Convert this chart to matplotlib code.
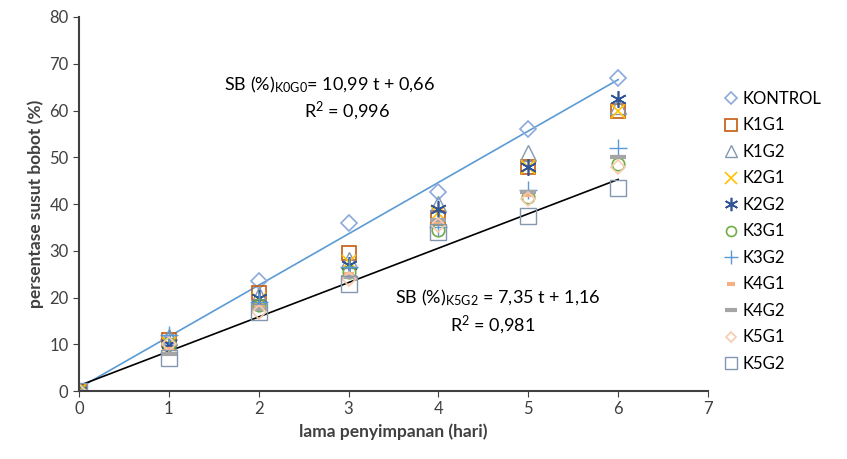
import matplotlib
matplotlib.use('Agg')
import matplotlib.pyplot as plt
import numpy as np

plt.rcParams['font.family'] = ['Lato', 'DejaVu Sans']
plt.rcParams['mathtext.fontset'] = 'custom'
plt.rcParams['mathtext.rm'] = 'Lato'
plt.rcParams['mathtext.it'] = 'Lato'

# storage days
days = [0, 1, 2, 3, 4, 5, 6]

# weight loss (%) per treatment
kontrol = [0, 11.0, 23.5, 36.0, 42.5, 56.0, 67.0]
k1g1 = [0, 11.0, 21.0, 29.5, 37.0, 48.0, 60.0]
k1g2 = [0, 11.5, 20.5, 28.0, 40.0, 51.0, 61.0]
k2g1 = [0, 10.0, 19.5, 27.5, 38.0, 48.0, 60.0]
k2g2 = [0, 10.0, 20.0, 27.0, 39.0, 48.0, 62.5]
k3g1 = [0, 10.0, 18.5, 25.5, 34.5, 41.5, 48.5]
k3g2 = [0, 12.0, 19.0, 26.5, 35.0, 43.0, 52.0]
k4g1 = [0, 9.0, 18.0, 25.0, 36.0, 42.0, 50.0]
k4g2 = [0, 8.0, 17.5, 24.5, 36.5, 42.5, 50.0]
k5g1 = [0, 10.0, 17.0, 24.0, 35.5, 41.0, 48.0]
k5g2 = [0, 7.0, 17.0, 23.0, 34.0, 37.5, 43.5]

# trendline coefficients (slope, intercept)
fit_k0g0 = (10.99, 0.66)
fit_k5g2 = (7.35, 1.16)

series = [
    ('KONTROL', kontrol, dict(marker='D', ms=8, mfc='none', mec='#8EA9DB', mew=1.2)),
    ('K1G1', k1g1, dict(marker='s', ms=10, mfc='none', mec='#C55A11', mew=1.2)),
    ('K1G2', k1g2, dict(marker='^', ms=11, mfc='none', mec='#8497B0', mew=1.0)),
    ('K2G1', k2g1, dict(marker='x', ms=10, mec='#FFC000', mew=1.2)),
    ('K2G2', k2g2, dict(marker=(6, 2, 0), ms=12, mec='#2F5597', mew=1.2)),
    ('K3G1', k3g1, dict(marker='o', ms=9, mfc='none', mec='#70AD47', mew=1.2)),
    ('K3G2', k3g2, dict(marker='+', ms=13, mec='#5B9BD5', mew=1.0)),
    ('K4G1', k4g1, dict(marker='_', ms=7, mec='#F4B183', mew=3)),
    ('K4G2', k4g2, dict(marker='_', ms=11, mec='#A5A5A5', mew=3)),
    ('K5G1', k5g1, dict(marker='D', ms=7, mfc='none', mec='#F8CBAD', mew=1.2)),
    ('K5G2', k5g2, dict(marker='s', ms=11, mfc='none', mec='#8497B0', mew=1.0)),
]

fig = plt.figure(figsize=(8.47, 4.59), dpi=100)
ax = fig.add_axes([0.0933, 0.148, 0.7426, 0.815])

for name, vals, st in series:
    ax.plot(days, vals, linestyle='none', label=name, **st)

t = np.array([0, 6])
ax.plot(t, fit_k0g0[0] * t + fit_k0g0[1], color='#5B9BD5', lw=1.2, zorder=1)
ax.plot(t, fit_k5g2[0] * t + fit_k5g2[1], color='black', lw=1.2, zorder=1)

ax.set_xlim(0, 7)
ax.set_ylim(0, 80)
ax.set_xticks(range(0, 8))
ax.set_yticks(range(0, 81, 10))
ax.tick_params(labelsize=12, direction='out', length=4, color='#404040', labelcolor='#404040')
ax.spines['top'].set_visible(False)
ax.spines['right'].set_visible(False)
for s in ('left', 'bottom'):
    ax.spines[s].set_linewidth(1.5)
    ax.spines[s].set_color('#404040')

ax.set_xlabel('lama penyimpanan (hari)', fontsize=12.5, fontweight='bold', color='#404040')
ax.set_ylabel('persentase susut bobot (%)', fontsize=12.5, fontweight='bold', color='#404040')

ax.text(2.79, 65.5, r'SB (%)$_{\mathrm{K0G0}}$= 10,99 t + 0,66', fontsize=13, ha='center', va='center')
ax.text(2.98, 60.0, r'R$^{2}$ = 0,996', fontsize=13, ha='center', va='center')
ax.text(4.66, 20.0, r'SB (%)$_{\mathrm{K5G2}}$ = 7,35 t + 1,16', fontsize=13, ha='center', va='center')
ax.text(4.6, 14.3, r'R$^{2}$ = 0,981', fontsize=13, ha='center', va='center')

ax.legend(loc='upper left', bbox_to_anchor=(1.01, 0.82), frameon=False, fontsize=12,
          handletextpad=0.1, handlelength=1.2, labelspacing=0.63, borderaxespad=0,
          markerscale=0.8)

fig.savefig('out.png', dpi=100)
